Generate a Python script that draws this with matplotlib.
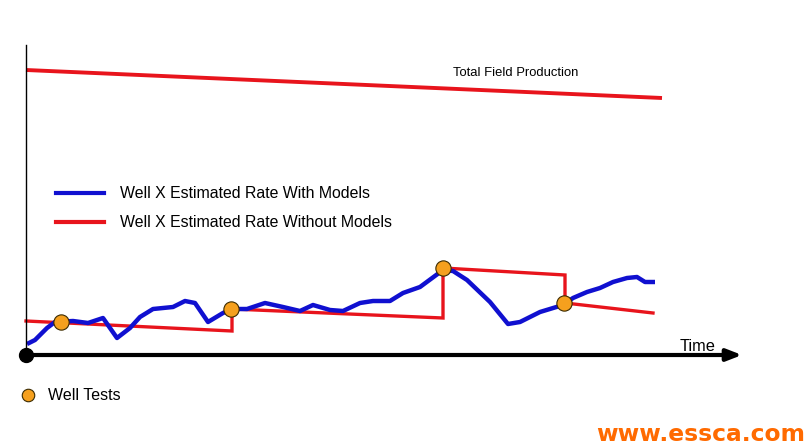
import numpy as np
import matplotlib.pyplot as plt

# Well X rate estimated with models (time, rate)
blue_t = [1, 9, 21, 29, 47, 62, 77, 91, 104, 114, 127, 147, 159, 169, 182,
          197, 206, 221, 239, 257, 274, 287, 304, 317, 334, 347, 364, 377,
          394, 417, 427, 441, 464, 482, 494, 514, 537, 547, 561, 574,
          587, 601, 611, 619, 629]
blue_r = [11, 15, 27, 33, 34, 32, 37, 17, 27, 38, 46, 48, 54, 52, 33,
          42, 46, 46, 52, 48, 44, 50, 45, 44, 52, 54, 54, 62, 68,
          85, 84, 75, 53, 31, 33, 43, 50, 57, 63, 67, 73, 77, 78, 73, 73]

# Well X rate estimated without models (step corrections at each test)
red_t = [0, 206, 206, 417, 417, 539, 539, 627]
red_r = [34, 24, 46, 37, 87, 80, 52, 42]

# Well tests
test_t = [35, 205, 417, 538]
test_r = [33, 46, 87, 52]

# Total field production
field_t = [0, 636]
field_r = [285, 257]

fig = plt.figure(figsize=(8.12, 4.48), dpi=100)
ax = fig.add_axes([0, 0, 1, 1])
ax.set_xlim(-26, 786)
ax.set_ylim(-93, 355)
ax.axis('off')

plt.rcParams['font.family'] = ['Liberation Sans', 'DejaVu Sans']

ax.plot(field_t, field_r, color='#e8141c', lw=2.8, solid_capstyle='butt')
ax.text(427, 282, 'Total Field Production', fontsize=9.4, ha='left', va='center')

ax.plot(red_t, red_r, color='#e8141c', lw=2.4, solid_joinstyle='miter')
ax.plot(blue_t, blue_r, color='#1010d0', lw=3.2, solid_capstyle='butt',
        solid_joinstyle='round')
ax.plot(test_t, test_r, 'o', ms=11, mfc='#f5a01e', mec='#3a2a00', mew=0.8, zorder=5)

# axes drawn as a diagram
ax.plot([0, 0], [0, 310], color='black', lw=1)
ax.annotate('', xy=(716, 0), xytext=(0, 0),
            arrowprops=dict(arrowstyle='-|>,head_length=0.9,head_width=0.35',
                            color='black', lw=3, shrinkA=0, shrinkB=0))
ax.plot([0], [0], 'o', ms=10, color='black')
ax.text(654, 9, 'Time', fontsize=11.8, ha='left', va='center')

# legend
ax.plot([30, 78], [162, 162], color='#1010d0', lw=3)
ax.text(94, 162, 'Well X Estimated Rate With Models', fontsize=11.4, va='center')
ax.plot([30, 78], [133, 133], color='#e8141c', lw=3)
ax.text(94, 133, 'Well X Estimated Rate Without Models', fontsize=11.4, va='center')

ax.plot([2], [-40], 'o', ms=9, mfc='#f5a01e', mec='#3a2a00', mew=0.8)
ax.text(22, -40, 'Well Tests', fontsize=11.5, va='center')

fig.text(0.992, 0.03, 'www.essca.com', color='#ff6a00', fontsize=16.8,
         fontweight='heavy', family='DejaVu Sans', ha='right', va='center')

fig.savefig('out.png', dpi=100)
